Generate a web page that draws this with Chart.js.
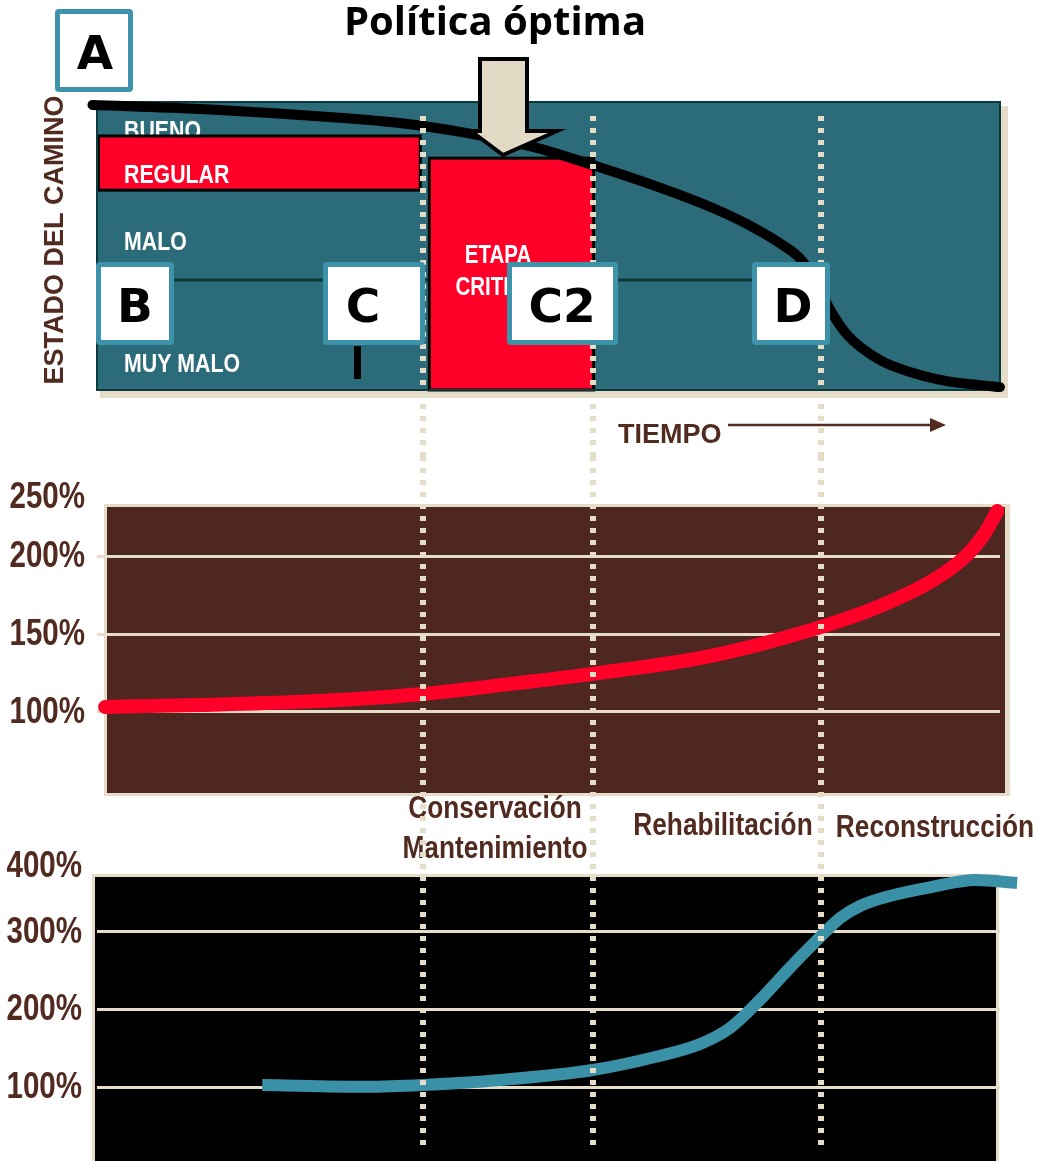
<!DOCTYPE html>
<html lang="es">
<head>
<meta charset="utf-8">
<title>Política óptima</title>
<script src="https://cdn.jsdelivr.net/npm/chart.js@4/dist/chart.umd.min.js"></script>
<style>
  html, body { margin: 0; padding: 0; background: #ffffff; }
  #lienzo { position: relative; width: 1038px; height: 1161px; overflow: hidden; }
  #lienzo canvas { position: absolute; left: 0; top: 0; }
</style>
</head>
<body>
<div id="lienzo">
  <canvas id="graficoEstado" width="1038" height="1161"></canvas>
  <canvas id="graficoOperacion" width="1038" height="1161"></canvas>
  <canvas id="graficoConservacion" width="1038" height="1161"></canvas>
</div>
<script>
// ---- Datos -------------------------------------------------------------
// Tiempo en escala relativa 0–100, compartida por los tres paneles.

// Estado del camino (100 = nuevo, 0 = destruido)
const tiempoEstado = [-0.5, 11.4, 22.5, 33.5, 41.0, 48.3, 54.9, 63.1, 68.2, 72.0, 75.6, 77.9, 79.5, 81.2, 83.1, 86.7, 90.4, 94.1, 97.8, 100];
const estadoCamino = [99.0, 97.6, 95.5, 92.7, 89.2, 84.4, 78.1, 69.4, 63.2, 57.6, 51.0, 45.5, 38.2, 27.8, 19.1, 10.4, 5.9, 3.1, 1.7, 1.0];

// Costo de operación vehicular (% del costo inicial)
const tiempoOperacion = [0.9, 11.4, 22.5, 36.1, 46.8, 54.9, 67.6, 80.3, 86.6, 92.4, 96.2, 98.4, 99.7];
const costoOperacion = [103.2, 104.5, 106.5, 111.6, 118.7, 124.5, 135.5, 154.8, 167.7, 183.9, 200.0, 215.5, 229.0];
const ticksOperacion = [100, 150, 200, 250];
const etiquetasOperacion = ['100%', '150%', '200%', '250%'];

// Costo de la intervención (% del costo de conservación)
const tiempoIntervencion = [18.3, 29.9, 36.1, 44.6, 54.9, 61.8, 66.8, 70.1, 73.4, 76.7, 80.3, 82.3, 84.5, 87.8, 92.4, 97.3, 101.9];
const costoIntervencion = [102.6, 100.3, 102.6, 109.0, 121.9, 138.7, 155.5, 176.1, 212.2, 253.4, 296.0, 317.9, 333.4, 346.3, 357.9, 366.9, 363.0];
const ticksIntervencion = [100, 200, 300, 400];
const etiquetasIntervencion = ['100%', '200%', '300%', '400%'];

// Límites de las etapas en el tiempo
const limitesEtapas = [36.1, 54.9, 80.2];
const nombresEtapas = ['Conservación', 'Mantenimiento', 'Rehabilitación', 'Reconstrucción'];

// Zonas de estado del camino
const zonasEstado = ['BUENO', 'REGULAR', 'MALO', 'MUY MALO'];
const limitesZonas = [88.2, 69.4, 38.2];   // BUENO|REGULAR, REGULAR|MALO, MALO|MUY MALO
const tramoRegular = [0, 35.8];           // tiempo en que el camino está en zona REGULAR
const etapaCritica = [36.8, 55.0];        // tiempo de la etapa crítica
const techoEtapaCritica = 80.5;           // estado al inicio de la etapa crítica

// ---- Estilo ------------------------------------------------------------
const COL = {
  teal: '#2c6b7a', tealOscuro: '#0c3a3c', rojo: '#ff0029', beige: '#e6ddc8',
  cafe: '#4e2820', texto: '#512a20', caja: '#3c93aa', curvaAzul: '#3a90a6'
};
const SANS = "'Liberation Sans', Arial, sans-serif";
const ANGOSTO = 0.82;   // compresión horizontal para los rótulos angostos

function puntos(xs, ys) { return xs.map((x, i) => ({ x, y: ys[i] })); }

function texto(ctx, s, x, y, font, color, align) {
  ctx.font = font;
  ctx.fillStyle = color;
  ctx.textAlign = align || 'left';
  ctx.textBaseline = 'alphabetic';
  ctx.fillText(s, x, y);
}

// Texto negrita comprimido horizontalmente
function textoAngosto(ctx, s, x, y, size, color, align, baseline) {
  ctx.save();
  ctx.translate(x, y);
  ctx.scale(ANGOSTO, 1);
  ctx.font = 'bold ' + size + 'px ' + SANS;
  ctx.fillStyle = color;
  ctx.textAlign = align || 'left';
  ctx.textBaseline = baseline || 'alphabetic';
  ctx.fillText(s, 0, 0);
  ctx.restore();
}

function lineasEtapas(chart, y0, y1) {
  const { ctx } = chart;
  const x = chart.scales.x;
  ctx.save();
  ctx.strokeStyle = COL.beige;
  ctx.lineWidth = 6;
  ctx.setLineDash([5, 7]);
  ctx.lineDashOffset = -(y0 % 12);
  limitesEtapas.forEach(t => {
    const px = Math.round(x.getPixelForValue(t));
    ctx.beginPath();
    ctx.moveTo(px, y0);
    ctx.lineTo(px, y1);
    ctx.stroke();
  });
  ctx.restore();
}

function etiquetasEje(chart, etiquetas, relleno) {
  const { ctx } = chart;
  const s = chart.scales.y;
  s.ticks.forEach((t, i) => {
    textoAngosto(ctx, etiquetas[i], s.right - relleno, s.getPixelForTick(i) + 1, 36, COL.texto, 'right', 'middle');
  });
}

function caja(ctx, x0, y0, x1, y1, letra, cx) {
  ctx.save();
  ctx.fillStyle = COL.caja;
  ctx.beginPath();
  ctx.roundRect(x0, y0, x1 - x0, y1 - y0, 4);
  ctx.fill();
  ctx.fillStyle = '#ffffff';
  ctx.fillRect(x0 + 5, y0 + 5, x1 - x0 - 10, y1 - y0 - 10);
  ctx.fillStyle = '#000000';
  ctx.font = "bold 47px 'DejaVu Sans', sans-serif";
  ctx.textAlign = 'center';
  ctx.textBaseline = 'alphabetic';
  ctx.fillText(letra, cx, (y0 + y1) / 2 + 18);
  ctx.restore();
}

// ---- Panel superior: estado del camino ---------------------------------
const pluginEstado = {
  id: 'panelEstado',
  beforeDraw(chart) {
    const { ctx, chartArea: a, scales: { x, y } } = chart;
    ctx.save();
    // sombra y fondo
    ctx.fillStyle = COL.beige;
    ctx.fillRect(a.left + 3, a.top + 4, a.width + 5, a.height + 4);
    ctx.fillStyle = COL.teal;
    ctx.fillRect(a.left, a.top, a.width, a.height);

    // división MALO | MUY MALO
    const yMM = y.getPixelForValue(limitesZonas[2]);
    ctx.strokeStyle = COL.tealOscuro;
    ctx.lineWidth = 3;
    ctx.beginPath();
    ctx.moveTo(a.left, yMM);
    ctx.lineTo(x.getPixelForValue(limitesEtapas[2]), yMM);
    ctx.stroke();

    textoAngosto(ctx, zonasEstado[0], a.left + 27, 139, 26, '#ffffff');

    // franja REGULAR
    const rx0 = x.getPixelForValue(tramoRegular[0]);
    const rx1 = x.getPixelForValue(tramoRegular[1]);
    const ry0 = y.getPixelForValue(limitesZonas[0]);
    const ry1 = y.getPixelForValue(limitesZonas[1]);
    ctx.fillStyle = COL.rojo;
    ctx.fillRect(rx0, ry0, rx1 - rx0, ry1 - ry0);
    ctx.strokeStyle = '#000000';
    ctx.lineWidth = 3;
    ctx.strokeRect(rx0 + 1.5, ry0, rx1 - rx0 - 1.5, ry1 - ry0);

    // etapa crítica
    const cx0 = x.getPixelForValue(etapaCritica[0]);
    const cx1 = x.getPixelForValue(etapaCritica[1]);
    const cy0 = y.getPixelForValue(techoEtapaCritica);
    const cy1 = y.getPixelForValue(0);
    ctx.fillStyle = COL.rojo;
    ctx.fillRect(cx0, cy0, cx1 - cx0, cy1 - cy0);
    ctx.strokeRect(cx0, cy0, cx1 - cx0, cy1 - cy0);

    textoAngosto(ctx, zonasEstado[1], a.left + 27, 183, 26, '#ffffff');
    textoAngosto(ctx, zonasEstado[2], a.left + 27, 250, 26, '#ffffff');
    textoAngosto(ctx, zonasEstado[3], a.left + 27, 372, 26, '#ffffff');
    textoAngosto(ctx, 'ETAPA', 498, 263, 25, '#ffffff', 'center');
    textoAngosto(ctx, 'CRITICA', 497, 295, 25, '#ffffff', 'center');

    // borde del panel
    ctx.strokeStyle = COL.tealOscuro;
    ctx.lineWidth = 2;
    ctx.strokeRect(a.left, a.top, a.width, a.height);
    ctx.restore();
  },
  afterDraw(chart) {
    const { ctx } = chart;
    ctx.save();
    // eje vertical
    ctx.save();
    ctx.translate(53, 240);
    ctx.rotate(-Math.PI / 2);
    texto(ctx, 'ESTADO DEL CAMINO', 0, 10, 'bold 27px ' + SANS, COL.texto, 'center');
    ctx.restore();

    // eje del tiempo
    texto(ctx, 'TIEMPO', 618, 443, 'bold 27px ' + SANS, COL.texto);
    ctx.strokeStyle = COL.texto;
    ctx.lineWidth = 2.5;
    ctx.beginPath();
    ctx.moveTo(728, 425);
    ctx.lineTo(933, 425);
    ctx.stroke();
    ctx.fillStyle = COL.texto;
    ctx.beginPath();
    ctx.moveTo(930, 418);
    ctx.lineTo(946, 425);
    ctx.lineTo(930, 432);
    ctx.closePath();
    ctx.fill();

    lineasEtapas(chart, 112, 456);

    // flecha de política óptima
    ctx.beginPath();
    ctx.moveTo(480, 59);
    ctx.lineTo(527, 59);
    ctx.lineTo(527, 131);
    ctx.lineTo(557, 131);
    ctx.lineTo(503, 155);
    ctx.lineTo(471, 131);
    ctx.lineTo(480, 131);
    ctx.closePath();
    ctx.fillStyle = '#e3dac5';
    ctx.fill();
    ctx.strokeStyle = '#000000';
    ctx.lineWidth = 4;
    ctx.lineJoin = 'miter';
    ctx.stroke();

    texto(ctx, 'Política óptima', 495, 35, "bold 40px 'Open Sans', sans-serif", '#000000', 'center');

    // marcas
    caja(ctx, 55, 9, 133, 92, 'A', 95);
    caja(ctx, 96, 262, 174, 345, 'B', 135);
    caja(ctx, 323, 262, 425, 345, 'C', 363);
    caja(ctx, 507, 262, 618, 345, 'C2', 562);
    caja(ctx, 752, 262, 830, 345, 'D', 793);
    ctx.fillStyle = '#000000';
    ctx.fillRect(354, 346, 7, 33);
    ctx.restore();
  }
};

new Chart(document.getElementById('graficoEstado'), {
  type: 'line',
  data: {
    datasets: [{
      data: puntos(tiempoEstado, estadoCamino),
      borderColor: '#000000',
      borderWidth: 10,
      borderCapStyle: 'round',
      borderJoinStyle: 'round',
      cubicInterpolationMode: 'monotone',
      pointRadius: 0,
      clip: false
    }]
  },
  options: {
    responsive: false,
    animation: false,
    events: [],
    layout: { padding: { left: 97, right: 38, top: 102, bottom: 771 } },
    scales: {
      x: { type: 'linear', min: 0, max: 100, display: false },
      y: { type: 'linear', min: 0, max: 100, display: false }
    },
    plugins: { legend: { display: false }, tooltip: { enabled: false } }
  },
  plugins: [pluginEstado]
});

// ---- Eje de costo común a los paneles inferiores ----------------------
function ejeCosto(min, max, valores) {
  return {
    type: 'linear',
    min, max,
    afterFit(s) { s.width = 97; },
    afterBuildTicks(s) { s.ticks = valores.map(v => ({ value: Math.min(v, s.max) })); },
    ticks: { display: false, autoSkip: false },
    grid: {
      color: c => (c.index === valores.length - 1 ? 'rgba(0,0,0,0)' : COL.beige),
      lineWidth: 3,
      drawTicks: false
    },
    border: { display: false }
  };
}

// ---- Panel central: costo de operación ---------------------------------
const pluginOperacion = {
  id: 'panelOperacion',
  beforeDraw(chart) {
    const { ctx } = chart;
    ctx.save();
    ctx.fillStyle = COL.beige;
    ctx.fillRect(104, 504, 906, 292);
    ctx.fillStyle = COL.cafe;
    ctx.fillRect(107, 507, 898, 286);
    ctx.restore();
  },
  afterDraw(chart) {
    const { ctx } = chart;
    etiquetasEje(chart, etiquetasOperacion, 12);
    textoAngosto(ctx, nombresEtapas[0], 495, 818, 32, COL.texto, 'center');
    textoAngosto(ctx, nombresEtapas[1], 495, 858, 32, COL.texto, 'center');
    textoAngosto(ctx, nombresEtapas[2], 723, 835, 32, COL.texto, 'center');
    textoAngosto(ctx, nombresEtapas[3], 935, 837, 32, COL.texto, 'center');
    lineasEtapas(chart, 456, 864);
  }
};

new Chart(document.getElementById('graficoOperacion'), {
  type: 'line',
  data: {
    datasets: [{
      data: puntos(tiempoOperacion, costoOperacion),
      borderColor: COL.rojo,
      borderWidth: 14,
      borderCapStyle: 'round',
      borderJoinStyle: 'round',
      cubicInterpolationMode: 'monotone',
      pointRadius: 0,
      clip: false
    }]
  },
  options: {
    responsive: false,
    animation: false,
    events: [],
    layout: { padding: { left: 0, right: 38, top: 497, bottom: 368 } },
    scales: {
      x: { type: 'linear', min: 0, max: 100, display: false },
      y: ejeCosto(48, 238, ticksOperacion)
    },
    plugins: { legend: { display: false }, tooltip: { enabled: false } }
  },
  plugins: [pluginOperacion]
});

// ---- Panel inferior: costo de intervención -----------------------------
const pluginIntervencion = {
  id: 'panelIntervencion',
  beforeDraw(chart) {
    const { ctx } = chart;
    ctx.save();
    ctx.fillStyle = COL.beige;
    ctx.fillRect(92, 874, 907, 300);
    ctx.fillStyle = '#000000';
    ctx.fillRect(95, 877, 901, 300);
    ctx.restore();
  },
  afterDraw(chart) {
    etiquetasEje(chart, etiquetasIntervencion, 15);
    lineasEtapas(chart, 864, 1146);
  }
};

new Chart(document.getElementById('graficoConservacion'), {
  type: 'line',
  data: {
    datasets: [{
      data: puntos(tiempoIntervencion, costoIntervencion),
      borderColor: COL.curvaAzul,
      borderWidth: 12,
      borderCapStyle: 'butt',
      borderJoinStyle: 'round',
      cubicInterpolationMode: 'monotone',
      pointRadius: 0,
      clip: false
    }]
  },
  options: {
    responsive: false,
    animation: false,
    events: [],
    layout: { padding: { left: 0, right: 38, top: 866, bottom: 74 } },
    scales: {
      x: { type: 'linear', min: 0, max: 100, display: false },
      y: ejeCosto(100, 385, ticksIntervencion)
    },
    plugins: { legend: { display: false }, tooltip: { enabled: false } }
  },
  plugins: [pluginIntervencion]
});
</script>
</body>
</html>
